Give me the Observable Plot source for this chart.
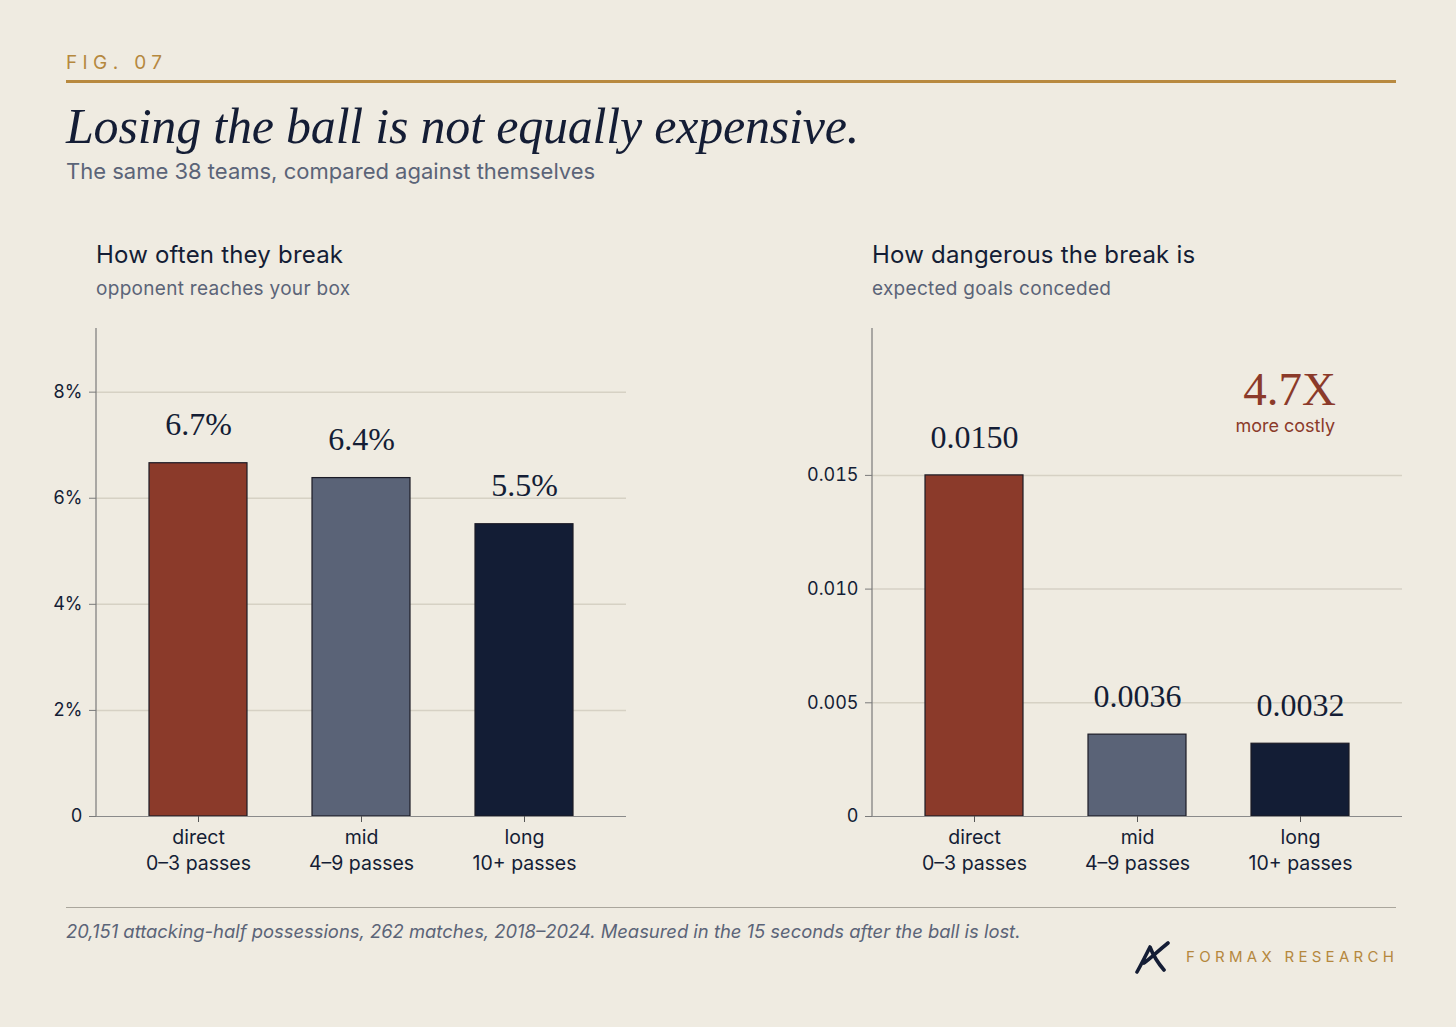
<!DOCTYPE html>
<html>
<head>
<meta charset="utf-8">
<script src="https://cdn.jsdelivr.net/npm/d3@7"></script>
<script src="https://cdn.jsdelivr.net/npm/@observablehq/plot@0.6"></script>
<style>
  html, body { margin:0; padding:0; background:#efebe1; }
  body { width:1456px; height:1027px; position:relative; overflow:hidden; font-family: Inter, "Noto Sans", sans-serif; }
  .abs { position:absolute; white-space:nowrap; }
  .fig { left:66px; top:51px; font-size:19px; letter-spacing:5.4px; color:#b5883e; }
  .goldline { left:66px; top:80px; width:1330px; height:3px; background:#b8893f; }
  .title { left:66px; top:97px; font-family:"Liberation Serif", "DejaVu Serif", serif; font-style:italic; font-size:50px; color:#141d35; letter-spacing:-0.2px; }
  .subtitle { left:66px; top:158px; font-size:22px; color:#5b6478; }
  .ptitle { font-size:24px; letter-spacing:0.2px; color:#141d35; }
  .psub { font-size:19px; letter-spacing:0.3px; color:#5b6478; }
  .footline { left:66px; top:907px; width:1330px; height:1px; background:#aaa69c; }
  .caption { left:66px; top:920px; font-size:18.4px; font-style:italic; color:#5b6478; }
  .brand { left:1186px; top:947px; font-size:15px; letter-spacing:4.3px; color:#b5883e; }
  .ann1 { font-family:"Liberation Serif", "DejaVu Serif", serif; font-size:47px; line-height:38px; color:#8b3a2a; text-align:right; }
  .ann2 { font-size:18px; line-height:20px; color:#8b3a2a; text-align:right; }
</style>
</head>
<body>
<script>
// ---- data ----
const categories = ["direct", "mid", "long"];
const passLabels = ["0–3 passes", "4–9 passes", "10+ passes"];
const breakRate = [0.0666, 0.0638, 0.0551];
const xgConceded = [0.0150, 0.0036, 0.0032];
const barColors = ["#8b3a2a", "#5a6377", "#131d35"];
const leftTicks = [0, 0.02, 0.04, 0.06, 0.08];
const rightTicks = [0, 0.005, 0.010, 0.015];
const leftDomainMax = 0.092;
const rightDomainMax = 0.02146;
const multiplier = "4.7X";

function addDiv(cls, text, style) {
  const d = document.createElement("div");
  d.className = "abs " + cls;
  d.textContent = text;
  if (style) Object.assign(d.style, style);
  document.body.appendChild(d);
  return d;
}

addDiv("fig", "FIG. 07");
addDiv("goldline", "");
addDiv("title", "Losing the ball is not equally expensive.");
addDiv("subtitle", "The same 38 teams, compared against themselves");
addDiv("ptitle", "How often they break", {left:"96px", top:"240px"});
addDiv("psub", "opponent reaches your box", {left:"96px", top:"277px"});
addDiv("ptitle", "How dangerous the break is", {left:"872px", top:"240px"});
addDiv("psub", "expected goals conceded", {left:"872px", top:"277px"});
addDiv("footline", "");
addDiv("caption", "20,151 attacking-half possessions, 262 matches, 2018–2024. Measured in the 15 seconds after the ball is lost.");
addDiv("brand", "FORMAX RESEARCH");

function panel(values, ticks, tickFmt, domainMax, labelFmt, left) {
  const data = categories.map((c, i) => ({cat: c, v: values[i], color: barColors[i]}));
  const W = 646, H = 568, mL = 96, mR = 20, mT = 10, mB = 70;
  const plot = Plot.plot({
    width: W, height: H,
    marginLeft: mL, marginRight: mR, marginTop: mT, marginBottom: mB,
    style: {background: "transparent", fontFamily: "Inter, 'Noto Sans', sans-serif", color: "#141d35"},
    x: {domain: categories, paddingInner: 0.4, paddingOuter: 0.32, label: null},
    y: {domain: [0, domainMax], label: null},
    color: {type: "identity"},
    marks: [
      Plot.gridY(ticks.filter(t => t > 0), {stroke: "#d6d1c4", strokeOpacity: 1, strokeWidth: 1.5}),
      Plot.barY(data, {x: "cat", y: "v", fill: "color", stroke: "#1b1b26", strokeWidth: 1.2}),
      Plot.ruleY([0], {stroke: "#8a8a8a", strokeWidth: 1.2}),
      Plot.axisY(ticks, {tickSize: 7, tickPadding: 7, stroke: "#7a7a7a", fontSize: 18, tickFormat: tickFmt, label: null}),
      Plot.axisX({tickSize: 6, tickPadding: 3, stroke: "#555", fontSize: 19.5, lineHeight: 1.34, label: null,
        tickFormat: c => c + "\n" + passLabels[categories.indexOf(c)]}),
      Plot.text(data, {x: "cat", y: "v", text: d => labelFmt(d.v), dy: -38,
        fontFamily: "'Liberation Serif', 'DejaVu Serif', serif", fontSize: 32, fill: "#141d35"})
    ]
  });
  // vertical axis line along the frame's left edge using the plot's own scales
  const yr = plot.scale("y").range;
  const xr = plot.scale("x").range;
  d3.select(plot).append("line")
    .attr("x1", xr[0]).attr("x2", xr[0])
    .attr("y1", Math.min(...yr)).attr("y2", Math.max(...yr))
    .attr("stroke", "#7a7a7a").attr("stroke-width", 1.2);
  plot.style.position = "absolute";
  plot.style.left = left + "px";
  plot.style.top = "318px";
  document.body.appendChild(plot);
  return plot;
}

panel(breakRate, leftTicks, t => t === 0 ? "0" : Math.round(t * 100) + "%", leftDomainMax,
  v => (v * 100).toFixed(1) + "%", 0);
panel(xgConceded, rightTicks, t => t === 0 ? "0" : t.toFixed(3), rightDomainMax,
  v => v.toFixed(4), 776);

addDiv("ann1", multiplier, {right: (1456 - 1336) + "px", top: "370px"});
addDiv("ann2", "more costly", {right: (1456 - 1335) + "px", top: "416px"});

// logo mark
const ns = "http://www.w3.org/2000/svg";
const logo = document.createElementNS(ns, "svg");
logo.setAttribute("width", "40"); logo.setAttribute("height", "34");
logo.style.position = "absolute"; logo.style.left = "1134px"; logo.style.top = "941px";
logo.innerHTML = '<path d="M3 31 C8 22 12 14 16 6 C19 14 24 22 30 29 M10 22 C16 18 24 10 34 2" fill="none" stroke="#141d35" stroke-width="3.6" stroke-linecap="round" stroke-linejoin="round"/>';
document.body.appendChild(logo);
</script>
</body>
</html>
